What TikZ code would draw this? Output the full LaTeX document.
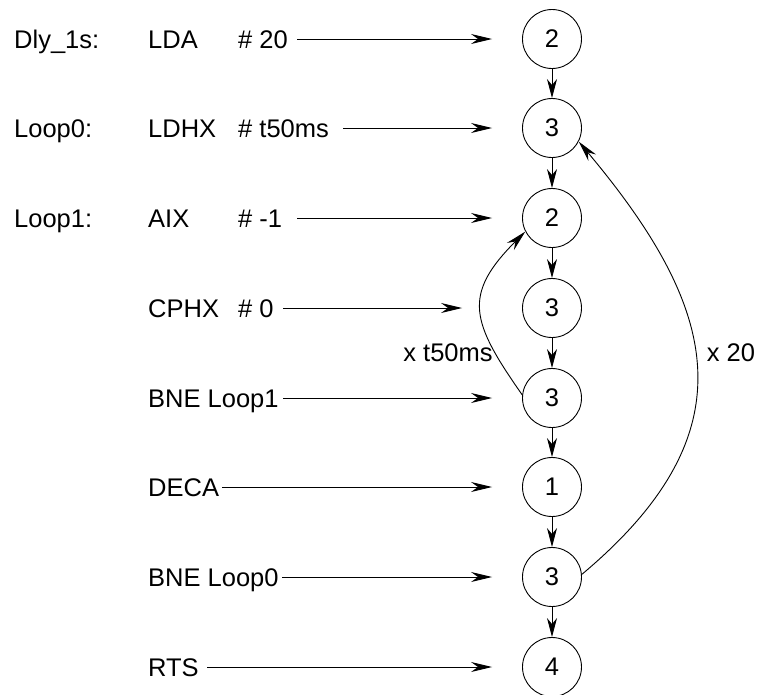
\documentclass[tikz,border=0pt]{standalone}
\usepackage{fontspec}
\setmainfont{Liberation Sans}
\usetikzlibrary{arrows.meta}
\begin{document}
\begin{tikzpicture}[x=1pt,y=-1pt,
  every node/.style={font=\fontsize{25.5}{30}\selectfont},
  txt/.style={anchor=base west, inner sep=0pt},
  cnode/.style={draw, circle, minimum size=59pt, inner sep=0pt, line width=0.9pt},
  tip/.style={-{Stealth[length=21pt,width=10pt,inset=7pt]}},
  feed/.style={tip, line width=0.9pt, shorten >=30pt},
  flow/.style={-{Stealth[length=19pt,width=10pt,inset=6pt]}, line width=0.9pt},
  loop/.style={tip, line width=0.9pt}]
\useasboundingbox (0,0) rectangle (758,694);
% circles
\node[cnode] (c1) at (552,39) {2};
\node[cnode] (c2) at (552,128) {3};
\node[cnode] (c3) at (552,218) {2};
\node[cnode] (c4) at (552,308) {3};
\node[cnode] (c5) at (552,398) {3};
\node[cnode] (c6) at (552,487) {1};
\node[cnode] (c7) at (552,577) {3};
\node[cnode] (c8) at (552,667) {4};
% labels
\node[txt] (l1) at (14,48) {Dly\_1s:};
\node[txt] (l2) at (14,137) {Loop0:};
\node[txt] (l3) at (14,227) {Loop1:};
% mnemonics
\node[txt] (m1) at (148,48) {LDA};
\node[txt] (m2) at (148,137) {LDHX};
\node[txt] (m3) at (148,227) {AIX};
\node[txt] (m4) at (148,317) {CPHX};
\node[txt] (m5) at (148,407) {BNE Loop1};
\node[txt] (m6) at (148,496) {DECA};
\node[txt] (m7) at (148,586) {BNE Loop0};
\node[txt] (m8) at (148,676) {RTS};
% operands
\node[txt] (o1) at (238,48) {\# 20};
\node[txt] (o2) at (238,137) {\# t50ms};
\node[txt] (o3) at (238,227) {\# -1};
\node[txt] (o4) at (238,317) {\# 0};
% feed arrow starts
\coordinate (s1) at (297,39);
\coordinate (s2) at (343,128);
\coordinate (s3) at (297,218);
\coordinate (s4) at (283,308);
\coordinate (s5) at (283,398);
\coordinate (s6) at (222,487);
\coordinate (s7) at (282,577);
\coordinate (s8) at (207,667);
\draw[feed] (s1) -- (c1);
\draw[feed] (s2) -- (c2);
\draw[feed] (s3) -- (c3);
\draw[feed, shorten >=60pt] (s4) -- (c4);
\draw[feed] (s5) -- (c5);
\draw[feed] (s6) -- (c6);
\draw[feed] (s7) -- (c7);
\draw[feed] (s8) -- (c8);
% flow
\draw[flow] (c1) -- (c2);
\draw[flow] (c2) -- (c3);
\draw[flow] (c3) -- (c4);
\draw[flow] (c4) -- (c5);
\draw[flow] (c5) -- (c6);
\draw[flow] (c6) -- (c7);
\draw[flow] (c7) -- (c8);
% loops
\draw[loop] (c5.174) to[out=125,in=225,looseness=1.4] (c3.207);
\draw[loop] (c7.5) to[out=40,in=-50,looseness=1.3] (c2.-27);
\node (lt) at (448,353) {x t50ms};
\node (l20) at (731,353) {x 20};
\end{tikzpicture}
\end{document}
